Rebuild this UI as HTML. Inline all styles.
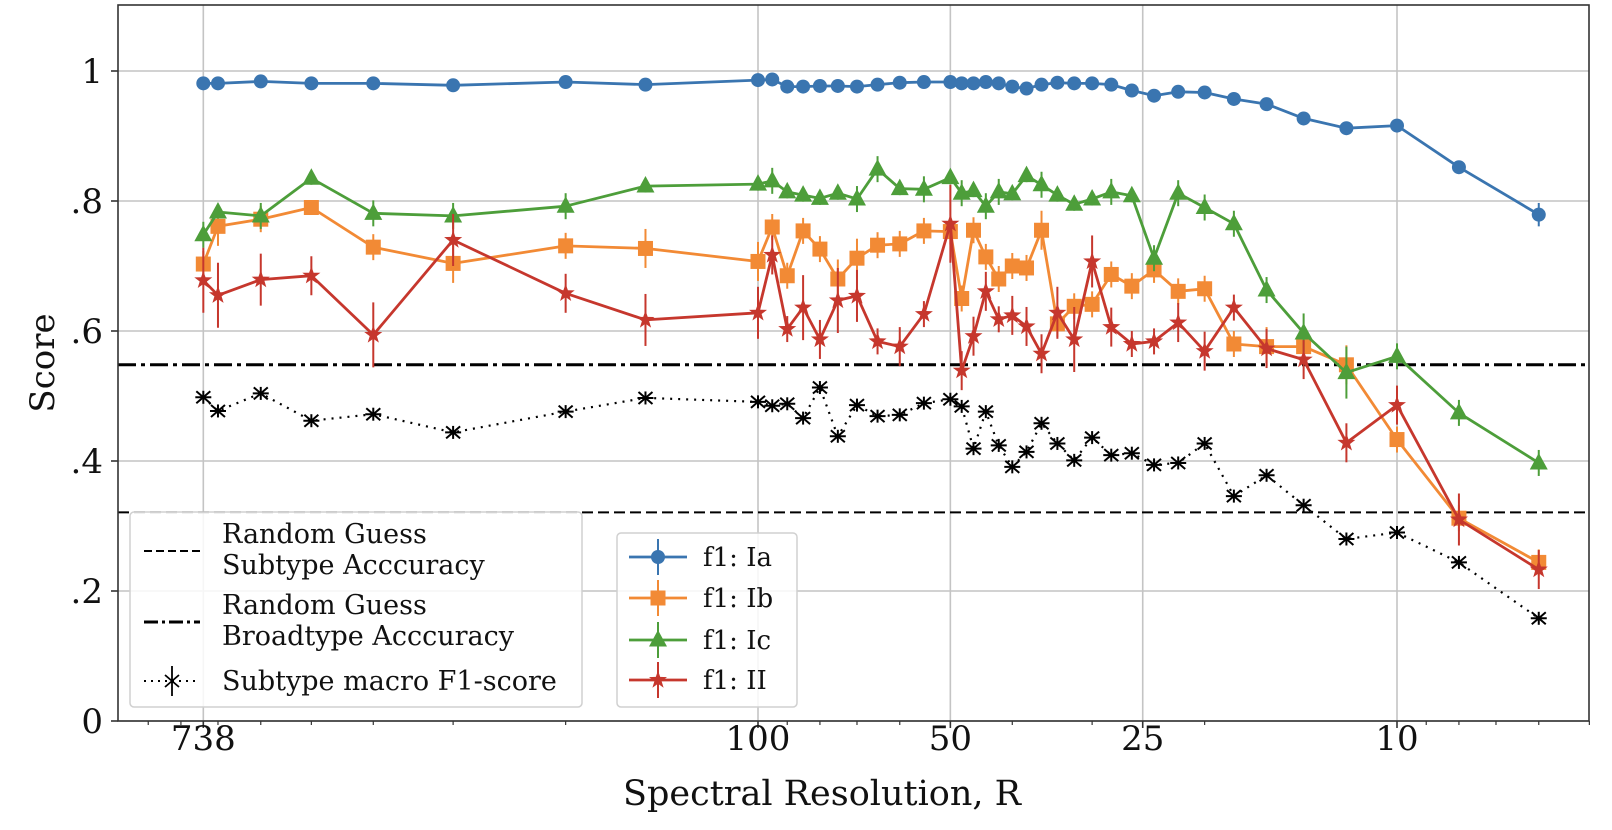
<!DOCTYPE html>
<html><head><meta charset="utf-8"><style>
html,body{margin:0;padding:0;background:#fff;}
svg{display:block;font-family:"DejaVu Serif","Liberation Serif",serif;}
</style></head><body>
<svg id="chart" width="1612" height="830" viewBox="0 0 1612 830" xmlns="http://www.w3.org/2000/svg"></svg>
<script>
const resAll = [738,700,600,500,400,300,200,150,100,95,90,85,80,75,70,65,60,55,50,48,46,44,42,40,38,36,34,32,30,28,26,24,22,20,18,16,14,12,10,8,6];
const iaVals = [.981,.981,.984,.981,.981,.978,.983,.979,.986,.987,.976,.976,.977,.977,.976,.979,.982,.983,.983,.981,.981,.983,.981,.976,.973,.979,.982,.981,.981,.979,.970,.962,.968,.967,.957,.949,.927,.912,.916,.852,.779];
const iaErr  = [.004,.004,.004,.004,.004,.004,.004,.004,.004,.004,.004,.004,.004,.004,.004,.004,.004,.004,.004,.004,.004,.004,.004,.004,.004,.004,.004,.004,.004,.004,.005,.005,.005,.005,.006,.006,.006,.006,.008,.008,.018];
const ibVals = [.703,.761,.772,.790,.729,.704,.731,.727,.707,.760,.685,.754,.726,.680,.712,.732,.734,.754,.753,.650,.755,.714,.680,.700,.697,.755,.611,.638,.641,.687,.669,.694,.661,.665,.580,.576,.576,.548,.433,.312,.244];
const ibErr  = [.02,.03,.02,.01,.02,.03,.02,.03,.03,.02,.02,.02,.02,.03,.03,.02,.02,.02,.02,.02,.02,.02,.02,.02,.02,.03,.02,.02,.02,.02,.02,.02,.02,.02,.02,.03,.02,.03,.02,.02,.02];
const icVals = [.748,.783,.777,.835,.781,.777,.792,.823,.826,.831,.814,.809,.804,.812,.803,.849,.819,.818,.836,.812,.816,.792,.814,.811,.839,.825,.809,.795,.803,.814,.808,.712,.812,.790,.765,.663,.597,.536,.561,.474,.397];
const icErr  = [.02,.01,.02,.01,.02,.02,.02,.01,.01,.02,.01,.01,.01,.01,.02,.02,.01,.02,.01,.02,.01,.02,.02,.01,.01,.02,.01,.01,.01,.02,.01,.02,.02,.02,.02,.02,.03,.04,.02,.02,.02];
const iiVals = [.678,.655,.679,.685,.594,.740,.658,.617,.628,.717,.603,.636,.587,.647,.654,.584,.576,.626,.765,.539,.592,.661,.618,.624,.607,.565,.628,.587,.707,.606,.580,.584,.613,.569,.636,.573,.556,.428,.486,.310,.233];
const iiErr  = [.05,.05,.04,.03,.05,.04,.03,.04,.04,.03,.02,.05,.03,.05,.04,.02,.03,.02,.06,.03,.03,.03,.02,.03,.03,.03,.04,.05,.04,.03,.02,.02,.03,.03,.02,.03,.03,.03,.03,.04,.03];
const mfVals = [.498,.477,.504,.462,.472,.444,.476,.497,.491,.485,.488,.466,.513,.438,.486,.469,.471,.489,.495,.484,.419,.476,.424,.391,.414,.458,.427,.401,.436,.409,.412,.394,.397,.427,.346,.378,.332,.280,.290,.244,.158];
const mfErr  = [.01,.01,.01,.01,.01,.01,.01,.01,.01,.01,.01,.01,.01,.01,.01,.01,.01,.01,.01,.01,.01,.01,.01,.01,.01,.01,.01,.01,.01,.01,.01,.01,.01,.01,.01,.01,.01,.01,.01,.01,.01];
const subtypeGuess = 0.321;
const broadtypeGuess = 0.548;
const yTicks = [0,.2,.4,.6,.8,1];
const yTickLabels = ["0",".2",".4",".6",".8","1"];
const xTicks = [738,100,50,25,10];
const xTickLabels = ["738","100","50","25","10"];
const xMinor = [900,800,700,600,500,400,300,200,90,80,70,60,40,30,20,9,8,7,6,5];

const NS="http://www.w3.org/2000/svg";
const svg=document.getElementById('chart');
const L=118,R=1589,T=5,B=721;
const X=r=>758+639*Math.log10(100/r);
const Y=v=>721-650*v;
function mk(tag,attrs,parent){const e=document.createElementNS(NS,tag);for(const k in attrs)e.setAttribute(k,attrs[k]);(parent||svg).appendChild(e);return e;}

const grid=mk('g',{});


yTicks.forEach(v=>{const l=mk('line',{x1:L,x2:R,y1:Y(v),y2:Y(v),stroke:'#c4c4c4','stroke-width':1.6},grid);

});
xTicks.forEach(r=>{const l=mk('line',{x1:X(r),x2:X(r),y1:T,y2:B,stroke:'#c4c4c4','stroke-width':1.6},grid);

});

const rl1=mk('line',{x1:L,x2:R,y1:Y(subtypeGuess),y2:Y(subtypeGuess),stroke:'#000','stroke-width':2,'stroke-dasharray':'11,5'});


const rl2=mk('line',{x1:L,x2:R,y1:Y(broadtypeGuess),y2:Y(broadtypeGuess),stroke:'#000','stroke-width':3,'stroke-dasharray':'18,5,4,5'});



function marker(g,kind,x,y,c){
  if(kind==='o'){return mk('circle',{cx:x,cy:y,r:7,fill:c},g);}
  if(kind==='s'){return mk('rect',{x:x-7.5,y:y-7.5,width:15,height:15,fill:c},g);}
  if(kind==='^'){return mk('polygon',{points:`${x},${y-10} ${x+9},${y+6.5} ${x-9},${y+6.5}`,fill:c},g);}
  if(kind==='*'){let p=[];for(let i=0;i<10;i++){const a=-Math.PI/2+i*Math.PI/5,rr=i%2?3.8:9.5;p.push((x+rr*Math.cos(a)).toFixed(1)+','+(y+rr*Math.sin(a)).toFixed(1));}return mk('polygon',{points:p.join(' '),fill:c},g);}
  if(kind==='x'){return mk('path',{d:`M${x-7},${y-6}L${x+7},${y+6}M${x-7},${y+6}L${x+7},${y-6}M${x-8},${y}L${x+8},${y}`,stroke:c,'stroke-width':2,fill:'none'},g);}
}
function series(name,vals,errs,color,kind,dash,lw){
  const g=mk('g',{});
  
  
  const pts=resAll.map((r,i)=>X(r).toFixed(1)+','+Y(vals[i]).toFixed(1)).join(' ');
  const pl=mk('polyline',{points:pts,fill:'none',stroke:color,'stroke-width':lw,'stroke-dasharray':dash||'none','stroke-linejoin':'round'},g);
  
  
  resAll.forEach((r,i)=>{
    const e=mk('line',{x1:X(r),x2:X(r),y1:Y(vals[i]-errs[i]),y2:Y(vals[i]+errs[i]),stroke:color,'stroke-width':2},g);
    
    
    const m=marker(g,kind,X(r),Y(vals[i]),color);
    
    
  });
}
series('macro-f1-series',mfVals,mfErr,'#000','x','2,6',2.2);
series('f1-ia-series',iaVals,iaErr,'#3a75b0','o',null,2.8);
series('f1-ib-series',ibVals,ibErr,'#f28a35','s',null,2.8);
series('f1-ic-series',icVals,icErr,'#4d9e3a','^',null,2.8);
series('f1-ii-series',iiVals,iiErr,'#c6372d','*',null,2.8);

const fr=mk('rect',{x:L,y:T,width:R-L,height:B-T,fill:'none',stroke:'#333','stroke-width':1.6});



const ax=mk('g',{});


yTicks.forEach((v,i)=>{mk('line',{x1:L-7,x2:L,y1:Y(v),y2:Y(v),stroke:'#333','stroke-width':1.6},ax);
 const t=mk('text',{x:103,y:Y(v)+12,'text-anchor':'end','font-size':34,fill:'#111'},ax);t.textContent=yTickLabels[i];
 
 });
xTicks.forEach((r,i)=>{mk('line',{x1:X(r),x2:X(r),y1:B,y2:B+7,stroke:'#333','stroke-width':1.6},ax);
 const t=mk('text',{x:X(r),y:750,'text-anchor':'middle','font-size':34,fill:'#111'},ax);t.textContent=xTickLabels[i];
 
 });
xMinor.forEach(r=>{mk('line',{x1:X(r),x2:X(r),y1:B,y2:B+4,stroke:'#333','stroke-width':1.2},ax);});
const yl=mk('text',{x:0,y:0,'text-anchor':'middle','font-size':34,fill:'#111',transform:'translate(54,363) rotate(-90)'});
yl.textContent='Score';


const xl=mk('text',{x:822,y:805,'text-anchor':'middle','font-size':35,fill:'#111'});
xl.textContent='Spectral Resolution, R';



const lg1=mk('g',{});


mk('rect',{x:130,y:512,width:452,height:195,rx:4,fill:'rgba(255,255,255,0.85)',stroke:'#d0d0d0','stroke-width':1.5},lg1);
mk('line',{x1:144,x2:200,y1:551,y2:551,stroke:'#000','stroke-width':2,'stroke-dasharray':'8,4'},lg1);
mk('line',{x1:144,x2:200,y1:622,y2:622,stroke:'#000','stroke-width':3,'stroke-dasharray':'14,4,3,4'},lg1);
mk('line',{x1:144,x2:200,y1:681,y2:681,stroke:'#000','stroke-width':2,'stroke-dasharray':'2,5'},lg1);
mk('path',{d:'M165,675L179,687M165,687L179,675M172,666L172,696',stroke:'#000','stroke-width':1.8},lg1);
[['Random Guess',543],['Subtype Acccuracy',574],['Random Guess',614],['Broadtype Acccuracy',645],['Subtype macro F1-score',690]].forEach(([s,y])=>{
 const t=mk('text',{x:222,y:y,'font-size':27,fill:'#111'},lg1);t.textContent=s;
 
 });
const lg2=mk('g',{});


mk('rect',{x:617,y:533,width:180,height:174,rx:4,fill:'rgba(255,255,255,0.85)',stroke:'#d0d0d0','stroke-width':1.5},lg2);
[['f1: Ia','#3a75b0','o',557],['f1: Ib','#f28a35','s',598],['f1: Ic','#4d9e3a','^',640],['f1: II','#c6372d','*',680]].forEach(([s,c,k,y])=>{
 mk('line',{x1:629,x2:687,y1:y,y2:y,stroke:c,'stroke-width':2.8},lg2);
 mk('line',{x1:658,x2:658,y1:y-18,y2:y+18,stroke:c,'stroke-width':2},lg2);
 marker(lg2,k,658,y,c);
 const t=mk('text',{x:703,y:y+9,'font-size':26,fill:'#111'},lg2);t.textContent=s;
 
 });
</script>
</body></html>
